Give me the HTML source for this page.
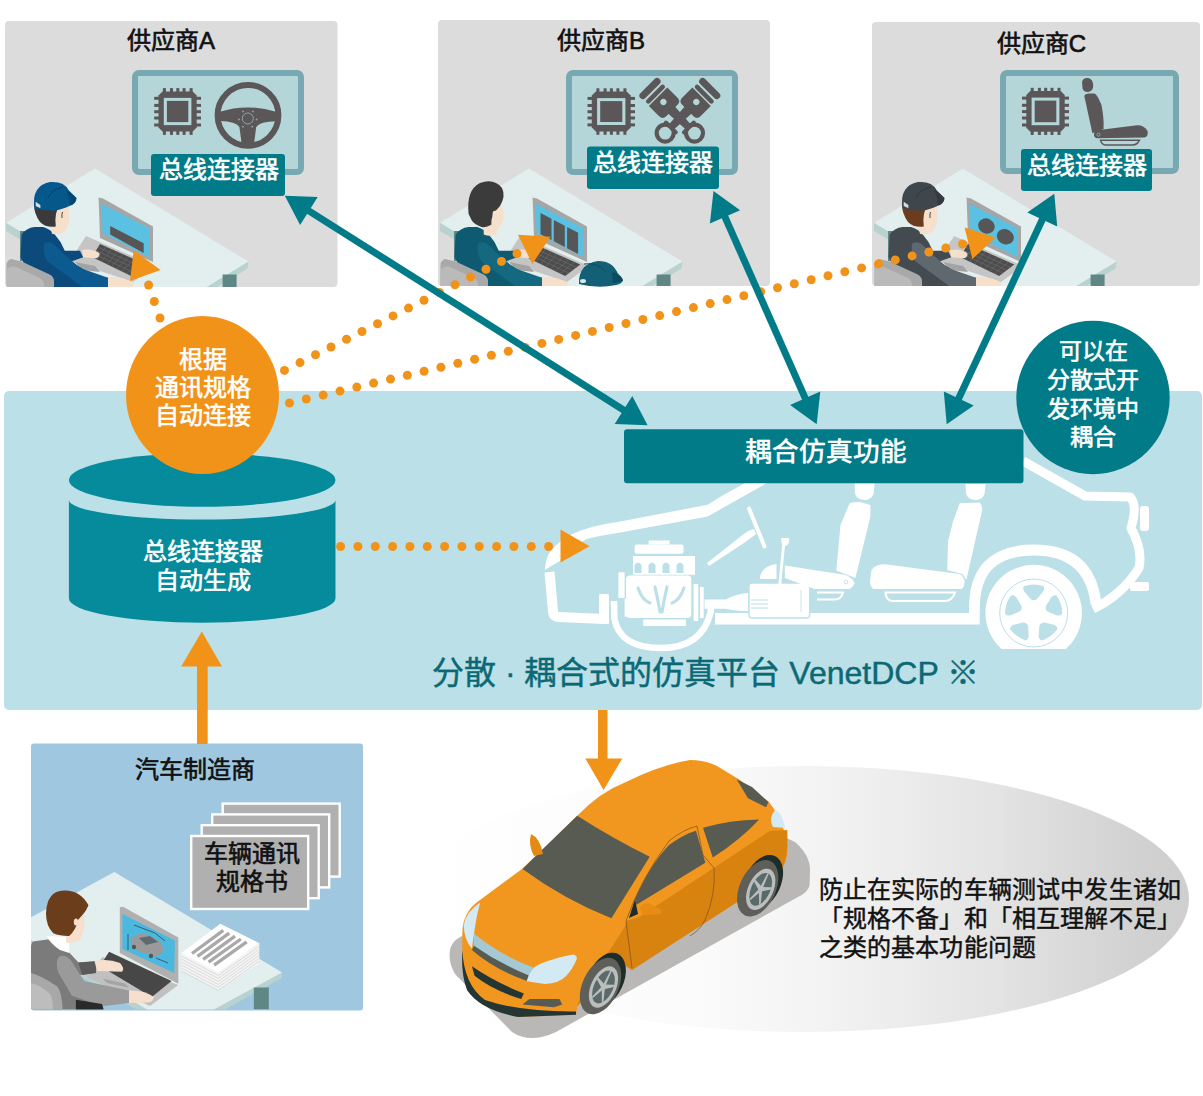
<!DOCTYPE html>
<html lang="zh-CN"><head><meta charset="utf-8"><style>
html,body{margin:0;padding:0;background:#fff;}
body{width:1203px;height:1096px;overflow:hidden;font-family:"Liberation Sans",sans-serif;}
svg{display:block;font-family:"Liberation Sans",sans-serif;}
</style></head><body>
<svg width="1203" height="1096" viewBox="0 0 1203 1096">
<rect x="5" y="21" width="332.5" height="266" rx="4" fill="#dcdcdc"/>
<rect x="438" y="20" width="332" height="266" rx="4" fill="#dcdcdc"/>
<rect x="872" y="22" width="328" height="264" rx="4" fill="#dcdcdc"/>
<defs><clipPath id="clipA"><rect x="5" y="21" width="332.5" height="266" rx="4"/></clipPath></defs><g clip-path="url(#clipA)"><g transform="translate(0,0)"><polygon points="6,222.7 6,231 159.5,322 247.5,268.5 248.5,261.6" fill="#b7d2cf"/><polygon points="95,168.6 6,222.7 159.5,315.7 248.5,261.6" fill="#e2efee"/><rect x="20" y="231" width="5" height="30" fill="#5f8785"/><rect x="222.6" y="274.5" width="14" height="14" fill="#5f8785"/><polygon points="86,236 155,266 133,282 70,261" fill="#c5c5c5"/><polygon points="100,244 146.3,264.5 131.2,276 92,257" fill="#4d4d4d"/><line x1="98.0" y1="247.2" x2="142.5" y2="267.4" stroke="#6e6e6e" stroke-width="0.6"/><line x1="96.0" y1="250.5" x2="138.8" y2="270.2" stroke="#6e6e6e" stroke-width="0.6"/><line x1="94.0" y1="253.8" x2="135.0" y2="273.1" stroke="#6e6e6e" stroke-width="0.6"/><line x1="105.8" y1="246.6" x2="96.9" y2="259.4" stroke="#6e6e6e" stroke-width="0.6"/><line x1="111.6" y1="249.1" x2="101.8" y2="261.8" stroke="#6e6e6e" stroke-width="0.6"/><line x1="117.4" y1="251.7" x2="106.7" y2="264.1" stroke="#6e6e6e" stroke-width="0.6"/><line x1="123.2" y1="254.2" x2="111.6" y2="266.5" stroke="#6e6e6e" stroke-width="0.6"/><line x1="128.9" y1="256.8" x2="116.5" y2="268.9" stroke="#6e6e6e" stroke-width="0.6"/><line x1="134.7" y1="259.4" x2="121.4" y2="271.2" stroke="#6e6e6e" stroke-width="0.6"/><line x1="140.5" y1="261.9" x2="126.3" y2="273.6" stroke="#6e6e6e" stroke-width="0.6"/><polygon points="75,262 95,266 100,272 82,270" fill="#a3a3a3"/><polygon points="98.6,197.6 103,198.5 153,226.5 153,262 100,238" fill="#a6a6a6"/><polygon points="101.8,204 150,228.4 150,257.5 102.5,233" fill="#5bc1e3"/><polygon points="110.2,226 143.7,243.2 143.7,253 110.2,234.6" fill="#565656"/><path d="M21.6,234.6 Q26,228 34.6,227 L43.2,227 Q50,229 54,233.5 L60.5,242 L64.8,250.8 L80,250.8 L83.2,257.3 L71.3,261.6 L95,276.7 L108,277.8 L110.2,290 L38.9,290 L20.5,257.3 Z" fill="#0b4a7b"/><path d="M44.3,243.2 Q50,241 54,244.3 L62.7,253 L80,268 L108,277.8 L109,290 L86.4,290 L62.7,272.4 L47.5,261.6 Q42,252 44.3,243.2 Z" fill="#0d5a91"/><path d="M51.7,206 L68.9,206 Q70.5,222 66,230 Q60,236 52,233.7 L50,226 Z" fill="#f6dfcb"/><path d="M33.9,203.5 L60,206 Q54,212 55.8,226.6 Q46,228 40,222 Q34,214 33.9,203.5 Z" fill="#3a3a3a"/><ellipse cx="62.8" cy="214.7" rx="2.4" ry="4" fill="#f6dfcb"/><path d="M62.5,212 Q61.5,215 62,218" fill="none" stroke="#3a3a3a" stroke-width="0.9"/><path d="M34.5,208.2 Q31,186 50,182.1 Q64,181 68.9,190.4 L76.6,198 Q76,204 70,205.8 Q60,210 55.8,210.6 Q44,211 34.5,208.2 Z" fill="#04588c"/><path d="M65.9,189.8 Q72,193 76.6,198 Q76,204 70,205.5 Q69,196 65.9,189.8 Z" fill="#00000030"/><path d="M48,198 Q52,189 63,187" fill="none" stroke="#00000040" stroke-width="1"/><path d="M35.7,201.7 L40.4,205 L40.4,208.2 L35.7,206 Z" fill="#d6dde3"/><path d="M82,250 Q92,248 99.4,253 Q100,258 95,258.3 L83.2,257.3 Z" fill="#f6dfcb"/><path d="M108,276.7 Q125,277 134,283.2 L131.8,290 L108,290 Z" fill="#f6dfcb"/><path d="M6.5,263.7 Q9,258 13,259.4 L21.6,261.6 L49.7,274.5 Q54,277 54,281 L54,290 L6.5,290 Z" fill="#a9a9a9"/><path d="M6.5,270 Q10,265 16,267 L40,278 Q44,281 44,285 L44,290 L6.5,290 Z" fill="#bababa"/></g></g>
<defs><clipPath id="clipB"><rect x="438" y="20" width="332" height="266" rx="4"/></clipPath></defs><g clip-path="url(#clipB)"><g transform="translate(434,0)"><polygon points="6,222.7 6,231 159.5,322 247.5,268.5 248.5,261.6" fill="#b7d2cf"/><polygon points="95,168.6 6,222.7 159.5,315.7 248.5,261.6" fill="#e2efee"/><rect x="20" y="231" width="5" height="30" fill="#5f8785"/><rect x="222.6" y="274.5" width="14" height="14" fill="#5f8785"/><polygon points="86,236 155,266 133,282 70,261" fill="#c5c5c5"/><polygon points="100,244 146.3,264.5 131.2,276 92,257" fill="#4d4d4d"/><line x1="98.0" y1="247.2" x2="142.5" y2="267.4" stroke="#6e6e6e" stroke-width="0.6"/><line x1="96.0" y1="250.5" x2="138.8" y2="270.2" stroke="#6e6e6e" stroke-width="0.6"/><line x1="94.0" y1="253.8" x2="135.0" y2="273.1" stroke="#6e6e6e" stroke-width="0.6"/><line x1="105.8" y1="246.6" x2="96.9" y2="259.4" stroke="#6e6e6e" stroke-width="0.6"/><line x1="111.6" y1="249.1" x2="101.8" y2="261.8" stroke="#6e6e6e" stroke-width="0.6"/><line x1="117.4" y1="251.7" x2="106.7" y2="264.1" stroke="#6e6e6e" stroke-width="0.6"/><line x1="123.2" y1="254.2" x2="111.6" y2="266.5" stroke="#6e6e6e" stroke-width="0.6"/><line x1="128.9" y1="256.8" x2="116.5" y2="268.9" stroke="#6e6e6e" stroke-width="0.6"/><line x1="134.7" y1="259.4" x2="121.4" y2="271.2" stroke="#6e6e6e" stroke-width="0.6"/><line x1="140.5" y1="261.9" x2="126.3" y2="273.6" stroke="#6e6e6e" stroke-width="0.6"/><polygon points="75,262 95,266 100,272 82,270" fill="#a3a3a3"/><polygon points="98.6,197.6 103,198.5 153,226.5 153,262 100,238" fill="#a6a6a6"/><polygon points="101.8,204 150,228.4 150,257.5 102.5,233" fill="#5bc1e3"/><polygon points="106.5,213 117.5,218.8 117.5,240 106.5,234.2" fill="#565656"/><polygon points="119.8,220 130.8,225.8 130.8,247 119.8,241.2" fill="#565656"/><polygon points="133.1,227 144.1,232.8 144.1,254 133.1,248.2" fill="#565656"/><path d="M21.6,234.6 Q26,228 34.6,227 L43.2,227 Q50,229 54,233.5 L60.5,242 L64.8,250.8 L80,250.8 L83.2,257.3 L71.3,261.6 L95,276.7 L108,277.8 L110.2,290 L38.9,290 L20.5,257.3 Z" fill="#0e5a70"/><path d="M44.3,243.2 Q50,241 54,244.3 L62.7,253 L80,268 L108,277.8 L109,290 L86.4,290 L62.7,272.4 L47.5,261.6 Q42,252 44.3,243.2 Z" fill="#146980"/><path d="M49.7,224.8 L62.7,224.8 L62.7,234.6 Q56,237 49.7,234.6 Z" fill="#f6dfcb"/><ellipse cx="57.3" cy="215.5" rx="12.5" ry="15.5" fill="#f6dfcb"/><path d="M34.6,214 Q32,190 46,183 Q60,178 68,188 Q72,196 66,206 L62.7,209.7 Q59,212 58.4,216.2 Q57,220 57.3,224.8 Q52,228 47.5,227 Q40,224 37.8,220.5 Z" fill="#3b3b3b"/><ellipse cx="60.8" cy="214" rx="2.2" ry="3.2" fill="#f6dfcb"/><path d="M82,250 Q92,248 99.4,253 Q100,258 95,258.3 L83.2,257.3 Z" fill="#f6dfcb"/><path d="M108,276.7 Q125,277 134,283.2 L131.8,290 L108,290 Z" fill="#f6dfcb"/><path d="M6.5,263.7 Q9,258 13,259.4 L21.6,261.6 L49.7,274.5 Q54,277 54,281 L54,290 L6.5,290 Z" fill="#a9a9a9"/><path d="M6.5,270 Q10,265 16,267 L40,278 Q44,281 44,285 L44,290 L6.5,290 Z" fill="#bababa"/></g></g>
<path d="M579,284 Q578,264 598,261 Q613,261 618,274 L623,280 Q622,284 616,285 Q598,289 579,284 Z" fill="#135f75"/>
<path d="M612,272 Q622,274 623,281 L613,283 Z" fill="#0c4c5f"/>
<path d="M584,264 Q598,262 606,272" fill="none" stroke="#0c4c5f" stroke-width="1"/>
<ellipse cx="583" cy="281" rx="3" ry="2" fill="#dfe6ea"/>
<defs><clipPath id="clipC"><rect x="872" y="22" width="328" height="264" rx="4"/></clipPath></defs><g clip-path="url(#clipC)"><g transform="translate(868,0)"><polygon points="6,222.7 6,231 159.5,322 247.5,268.5 248.5,261.6" fill="#b7d2cf"/><polygon points="95,168.6 6,222.7 159.5,315.7 248.5,261.6" fill="#e2efee"/><rect x="20" y="231" width="5" height="30" fill="#5f8785"/><rect x="222.6" y="274.5" width="14" height="14" fill="#5f8785"/><polygon points="86,236 155,266 133,282 70,261" fill="#c5c5c5"/><polygon points="100,244 146.3,264.5 131.2,276 92,257" fill="#4d4d4d"/><line x1="98.0" y1="247.2" x2="142.5" y2="267.4" stroke="#6e6e6e" stroke-width="0.6"/><line x1="96.0" y1="250.5" x2="138.8" y2="270.2" stroke="#6e6e6e" stroke-width="0.6"/><line x1="94.0" y1="253.8" x2="135.0" y2="273.1" stroke="#6e6e6e" stroke-width="0.6"/><line x1="105.8" y1="246.6" x2="96.9" y2="259.4" stroke="#6e6e6e" stroke-width="0.6"/><line x1="111.6" y1="249.1" x2="101.8" y2="261.8" stroke="#6e6e6e" stroke-width="0.6"/><line x1="117.4" y1="251.7" x2="106.7" y2="264.1" stroke="#6e6e6e" stroke-width="0.6"/><line x1="123.2" y1="254.2" x2="111.6" y2="266.5" stroke="#6e6e6e" stroke-width="0.6"/><line x1="128.9" y1="256.8" x2="116.5" y2="268.9" stroke="#6e6e6e" stroke-width="0.6"/><line x1="134.7" y1="259.4" x2="121.4" y2="271.2" stroke="#6e6e6e" stroke-width="0.6"/><line x1="140.5" y1="261.9" x2="126.3" y2="273.6" stroke="#6e6e6e" stroke-width="0.6"/><polygon points="75,262 95,266 100,272 82,270" fill="#a3a3a3"/><polygon points="98.6,197.6 103,198.5 153,226.5 153,262 100,238" fill="#a6a6a6"/><polygon points="101.8,204 150,228.4 150,257.5 102.5,233" fill="#5bc1e3"/><ellipse cx="118.4" cy="226" rx="8.5" ry="7.5" transform="rotate(25 118.4 226)" fill="#565656"/><ellipse cx="137.3" cy="236.7" rx="8.7" ry="7.5" transform="rotate(25 137.3 236.7)" fill="#565656"/><path d="M21.6,234.6 Q26,228 34.6,227 L43.2,227 Q50,229 54,233.5 L60.5,242 L64.8,250.8 L80,250.8 L83.2,257.3 L71.3,261.6 L95,276.7 L108,277.8 L110.2,290 L38.9,290 L20.5,257.3 Z" fill="#434b51"/><path d="M44.3,243.2 Q50,241 54,244.3 L62.7,253 L80,268 L108,277.8 L109,290 L86.4,290 L62.7,272.4 L47.5,261.6 Q42,252 44.3,243.2 Z" fill="#5f686e"/><path d="M51.7,206 L68.9,206 Q70.5,222 66,230 Q60,236 52,233.7 L50,226 Z" fill="#f6dfcb"/><path d="M33.9,203.5 L60,206 Q54,212 55.8,226.6 Q46,228 40,222 Q34,214 33.9,203.5 Z" fill="#6b3d1e"/><ellipse cx="62.8" cy="214.7" rx="2.4" ry="4" fill="#f6dfcb"/><path d="M62.5,212 Q61.5,215 62,218" fill="none" stroke="#3a3a3a" stroke-width="0.9"/><path d="M34.5,208.2 Q31,186 50,182.1 Q64,181 68.9,190.4 L76.6,198 Q76,204 70,205.8 Q60,210 55.8,210.6 Q44,211 34.5,208.2 Z" fill="#3f474d"/><path d="M65.9,189.8 Q72,193 76.6,198 Q76,204 70,205.5 Q69,196 65.9,189.8 Z" fill="#00000030"/><path d="M48,198 Q52,189 63,187" fill="none" stroke="#00000040" stroke-width="1"/><path d="M35.7,201.7 L40.4,205 L40.4,208.2 L35.7,206 Z" fill="#d6dde3"/><path d="M82,250 Q92,248 99.4,253 Q100,258 95,258.3 L83.2,257.3 Z" fill="#f6dfcb"/><path d="M108,276.7 Q125,277 134,283.2 L131.8,290 L108,290 Z" fill="#f6dfcb"/><path d="M6.5,263.7 Q9,258 13,259.4 L21.6,261.6 L49.7,274.5 Q54,277 54,281 L54,290 L6.5,290 Z" fill="#a9a9a9"/><path d="M6.5,270 Q10,265 16,267 L40,278 Q44,281 44,285 L44,290 L6.5,290 Z" fill="#bababa"/></g></g>
<text x="171" y="49" font-size="24" fill="#111" text-anchor="middle" font-weight="400" stroke="#111" stroke-width="0.65" >供应商A</text>
<text x="601" y="49" font-size="24" fill="#111" text-anchor="middle" font-weight="400" stroke="#111" stroke-width="0.65" >供应商B</text>
<text x="1041.5" y="52.3" font-size="24" fill="#111" text-anchor="middle" font-weight="400" stroke="#111" stroke-width="0.65" >供应商C</text>
<rect x="135" y="73" width="166" height="99" rx="4" fill="#b5d6d8" stroke="#78a9b2" stroke-width="6"/>
<rect x="569" y="73" width="166" height="99" rx="4" fill="#b5d6d8" stroke="#78a9b2" stroke-width="6"/>
<rect x="1003" y="73" width="173" height="98" rx="4" fill="#b5d6d8" stroke="#78a9b2" stroke-width="6"/>
<rect x="162.9" y="88.1" width="3" height="46.80000000000001" fill="#5b5758"/><rect x="154.2" y="96.8" width="46.80000000000001" height="3" fill="#5b5758"/><rect x="170.0" y="88.1" width="3" height="46.80000000000001" fill="#5b5758"/><rect x="154.2" y="103.9" width="46.80000000000001" height="3" fill="#5b5758"/><rect x="176.3" y="88.1" width="3" height="46.80000000000001" fill="#5b5758"/><rect x="154.2" y="110.2" width="46.80000000000001" height="3" fill="#5b5758"/><rect x="182.6" y="88.1" width="3" height="46.80000000000001" fill="#5b5758"/><rect x="154.2" y="116.5" width="46.80000000000001" height="3" fill="#5b5758"/><rect x="189.6" y="88.1" width="3" height="46.80000000000001" fill="#5b5758"/><rect x="154.2" y="123.5" width="46.80000000000001" height="3" fill="#5b5758"/><polygon points="162.5,91.39999999999999 192.7,91.39999999999999 196.7,95.39999999999999 196.7,127.6 192.7,131.6 162.5,131.6 158.5,127.6 158.5,95.39999999999999" fill="#5b5758"/><rect x="163.8" y="97.9" width="27.6" height="27.2" fill="#b5d6d8"/><rect x="166.9" y="100.9" width="21.4" height="21.2" fill="#5b5758"/>
<rect x="596.4" y="88.3" width="3" height="46.500000000000014" fill="#5b5758"/><rect x="587.5" y="96.9" width="47.5" height="3" fill="#5b5758"/><rect x="603.6" y="88.3" width="3" height="46.500000000000014" fill="#5b5758"/><rect x="587.5" y="104.0" width="47.5" height="3" fill="#5b5758"/><rect x="609.9" y="88.3" width="3" height="46.500000000000014" fill="#5b5758"/><rect x="587.5" y="110.2" width="47.5" height="3" fill="#5b5758"/><rect x="616.4" y="88.3" width="3" height="46.500000000000014" fill="#5b5758"/><rect x="587.5" y="116.5" width="47.5" height="3" fill="#5b5758"/><rect x="623.4" y="88.3" width="3" height="46.500000000000014" fill="#5b5758"/><rect x="587.5" y="123.4" width="47.5" height="3" fill="#5b5758"/><polygon points="595.8,91.6 626.7,91.6 630.7,95.6 630.7,127.5 626.7,131.5 595.8,131.5 591.8,127.5 591.8,95.6" fill="#5b5758"/><rect x="597.1" y="98.1" width="28.3" height="26.9" fill="#b5d6d8"/><rect x="600.2" y="101.1" width="22.1" height="20.9" fill="#5b5758"/>
<rect x="1030.7" y="87.8" width="3" height="47.2" fill="#5b5758"/><rect x="1022" y="96.6" width="47" height="3" fill="#5b5758"/><rect x="1037.9" y="87.8" width="3" height="47.2" fill="#5b5758"/><rect x="1022" y="103.8" width="47" height="3" fill="#5b5758"/><rect x="1044.2" y="87.8" width="3" height="47.2" fill="#5b5758"/><rect x="1022" y="110.1" width="47" height="3" fill="#5b5758"/><rect x="1050.5" y="87.8" width="3" height="47.2" fill="#5b5758"/><rect x="1022" y="116.5" width="47" height="3" fill="#5b5758"/><rect x="1057.5" y="87.8" width="3" height="47.2" fill="#5b5758"/><rect x="1022" y="123.5" width="47" height="3" fill="#5b5758"/><polygon points="1030.3,91.1 1060.7,91.1 1064.7,95.1 1064.7,127.69999999999999 1060.7,131.7 1030.3,131.7 1026.3,127.69999999999999 1026.3,95.1" fill="#5b5758"/><rect x="1031.6" y="97.6" width="27.8" height="27.6" fill="#b5d6d8"/><rect x="1034.7" y="100.6" width="21.6" height="21.6" fill="#5b5758"/>
<circle cx="248" cy="115.3" r="30.4" fill="none" stroke="#5b5758" stroke-width="6"/><path d="M220,111.8 Q234,107.2 248,107.4 Q262,107.2 276,111.8 L276,121.3 Q260,121.5 256.2,127 L254,144 L241.7,144 L239.4,127 Q236,121.5 220,121 Z" fill="#5b5758"/><circle cx="247.8" cy="118.5" r="5.5" fill="none" stroke="#a9c6c8" stroke-width="0.7"/><circle cx="243" cy="111.4" r="0.9" fill="#8fa9ab"/><circle cx="252.9" cy="111.4" r="0.9" fill="#8fa9ab"/><circle cx="239" cy="119.4" r="0.9" fill="#8fa9ab"/><circle cx="256.6" cy="119.4" r="0.9" fill="#8fa9ab"/><circle cx="243" cy="126.7" r="0.9" fill="#8fa9ab"/><circle cx="252.2" cy="126.7" r="0.9" fill="#8fa9ab"/>
<g transform="translate(663.4,102) rotate(-45)"><rect x="-13.5" y="-22.5" width="27" height="7" rx="3.5" fill="#5b5758"/><rect x="-12.5" y="-13.5" width="25" height="4.6" rx="2.3" fill="#5b5758"/><path d="M-13,-7.5 L13,-7.5 L13,7 Q13,12 8,12 L-8,12 Q-13,12 -13,7 Z" fill="#5b5758"/><circle cx="0" cy="0" r="3.1" fill="#b5d6d8"/><polygon points="-5,10 5,10 3.5,36 -3.5,36" fill="#5b5758"/><circle cx="0" cy="44" r="8.5" fill="none" stroke="#5b5758" stroke-width="4.2"/><rect x="-9" y="34" width="18" height="4" rx="2" fill="#5b5758"/></g><g transform="translate(696.3,102) rotate(45)"><rect x="-13.5" y="-22.5" width="27" height="7" rx="3.5" fill="#5b5758"/><rect x="-12.5" y="-13.5" width="25" height="4.6" rx="2.3" fill="#5b5758"/><path d="M-13,-7.5 L13,-7.5 L13,7 Q13,12 8,12 L-8,12 Q-13,12 -13,7 Z" fill="#5b5758"/><circle cx="0" cy="0" r="3.1" fill="#b5d6d8"/><polygon points="-5,10 5,10 3.5,36 -3.5,36" fill="#5b5758"/><circle cx="0" cy="44" r="8.5" fill="none" stroke="#5b5758" stroke-width="4.2"/><rect x="-9" y="34" width="18" height="4" rx="2" fill="#5b5758"/></g>
<path d="M1082,82 Q1083,77.5 1088,78 Q1093,79 1093.2,85 Q1093.5,91 1088,92 Q1083,92 1082.5,88 Z" fill="#5b5758"/><path d="M1084.3,96 Q1085,93.4 1089,93.4 L1094.5,93.4 Q1097,94 1101.5,105 Q1104,118 1103.6,129 L1092.4,133.2 Z" fill="#5b5758"/><path d="M1094,134 Q1094.5,130.5 1099,130 L1135,125.4 Q1144,124.5 1147.6,131 Q1148.5,137 1144,137.6 L1097,138.2 Q1093.5,137.5 1094,134 Z" fill="#5b5758"/><circle cx="1098.5" cy="134.6" r="1.6" fill="none" stroke="#a9c6c8" stroke-width="0.6"/><path d="M1100.5,140.2 L1139.5,140.2 Q1137,145 1133,145 L1105,145 Q1101.5,144.5 1100.5,140.2 Z" fill="none" stroke="#5b5758" stroke-width="1.5"/>
<rect x="151" y="154" width="134" height="42" rx="3" fill="#027b88"/>
<rect x="587" y="146.5" width="132" height="42.5" rx="3" fill="#027b88"/>
<rect x="1021" y="149" width="131" height="42" rx="3" fill="#027b88"/>
<text x="218.5" y="178" font-size="24" fill="#fff" text-anchor="middle" font-weight="400" stroke="#fff" stroke-width="0.6" >总线连接器</text>
<text x="653" y="171" font-size="24" fill="#fff" text-anchor="middle" font-weight="400" stroke="#fff" stroke-width="0.6" >总线连接器</text>
<text x="1086.5" y="173.5" font-size="24" fill="#fff" text-anchor="middle" font-weight="400" stroke="#fff" stroke-width="0.6" >总线连接器</text>
<rect x="4" y="391" width="1198" height="319" rx="5" fill="#bce0e7"/>
<path d="M544.7,570 Q546,558 549.3,553 Q560,538 578.8,531.2 Q595,525 617.6,521.9 L707.6,504.8 Q714,501 720,497 L768,470 L790,470 L720,509.5 Q714,513 707.6,516.5 L617.6,533 Q598,536 586.6,539 Q570,548 560.2,560.7 Z" fill="#fff"/>
<path d="M549.5,572 L553,611 Q553,617 559,617 L604,619" fill="none" stroke="#fff" stroke-width="10" stroke-linejoin="round"/>
<rect x="599" y="594" width="10" height="30" rx="1.5" fill="#fff"/>
<path d="M614,601 L614.5,619 Q620,648 661,648 Q702,648 710.7,612 L711,600" fill="none" stroke="#fff" stroke-width="6.5"/>
<rect x="626" y="575.4" width="65.3" height="42.7" rx="4" fill="#fff"/>
<path d="M633,556 L695,556 L695,574.7 L633,574.7 Z" fill="#fff"/>
<rect x="634.7" y="544.4" width="48.8" height="9.3" rx="2" fill="#fff"/>
<rect x="648.6" y="540.5" width="21" height="4" rx="1" fill="#fff"/>
<rect x="618.4" y="572.3" width="6.2" height="25.7" fill="#fff"/>
<rect x="624.6" y="598.7" width="5.4" height="17.9" fill="#fff"/>
<rect x="693.6" y="584" width="4.7" height="37" fill="#fff"/>
<rect x="700" y="587" width="3.7" height="31" fill="#fff"/>
<rect x="643.2" y="619.5" width="42.7" height="6.5" fill="#fff"/>
<path d="M634.5,573 L634.5,565 Q638,560 641.5,565 L641.5,573 Z" fill="#bce0e7"/>
<path d="M648.5,573 L648.5,565 Q652,560 655.5,565 L655.5,573 Z" fill="#bce0e7"/>
<path d="M662.5,573 L662.5,565 Q666,560 669.5,565 L669.5,573 Z" fill="#bce0e7"/>
<path d="M676.5,573 L676.5,565 Q680,560 683.5,565 L683.5,573 Z" fill="#bce0e7"/>
<path d="M638,588 Q642,600 650,603 M684,588 Q680,600 672,603 M655,587 Q658,600 660,612 M667,587 Q664,600 662,612" fill="none" stroke="#bce0e7" stroke-width="3.2" stroke-linecap="round"/>
<path d="M704.5,599.5 L726,599.5 Q735,594 748.2,593 L748.2,611.3 Q735,611 726,608.8 L704.5,608.8 Z" fill="#fff"/>
<path d="M781,538 L789,538 Q790,543 786,546 L783,546 Q781,543 781,538 Z" fill="#fff"/>
<path d="M707,563 L740,537 Q748,530 754,529 L756,534 Q751,538 744,543 L709,566 Z" fill="#fff"/>
<line x1="749" y1="508.5" x2="764.5" y2="546.5" stroke="#fff" stroke-width="4" stroke-linecap="round"/>
<path d="M715,613 L969.7,613 L979.7,613 L979.7,624.6 L715,624.6 Z" fill="#fff"/>
<rect x="749" y="583" width="60.7" height="35" rx="3" fill="#fff" stroke="#bce0e7" stroke-width="1.3"/>
<line x1="751" y1="600" x2="768" y2="600" stroke="#bce0e7" stroke-width="1"/><line x1="751" y1="604" x2="768" y2="604" stroke="#bce0e7" stroke-width="1"/><line x1="751" y1="608" x2="768" y2="608" stroke="#bce0e7" stroke-width="1"/>
<line x1="801" y1="590" x2="801" y2="612" stroke="#bce0e7" stroke-width="0.8"/>
<line x1="779.8" y1="584" x2="784" y2="541" stroke="#fff" stroke-width="2.8"/>
<path d="M854.6,483.3 L874.6,483.3 L873.6,494 Q871,500 864,500 Q856,499 855,493 Z" fill="#fff"/>
<path d="M849.6,503.3 Q852,502 860,502 L870.4,505 L870.4,516.6 L855.4,578 L836.3,570.6 L840.5,524.9 Z" fill="#fff"/>
<path d="M784.8,565.6 L844.6,574.8 Q852,577 854.6,583 Q852,589 848,589 L814.7,589 L784.8,578 Z" fill="#fff"/>
<path d="M759.8,579 Q761,566 776.5,564 L776.5,579 Z" fill="#fff"/>
<path d="M817,592.5 L843,592.5 Q841,599.5 835,599.5 L817,599.5" fill="none" stroke="#fff" stroke-width="2.2"/>
<circle cx="846" cy="582" r="1.8" fill="none" stroke="#bce0e7" stroke-width="0.8"/>
<path d="M965.6,484 L985.5,484 L984.5,494 Q982,500 975,500 Q967,499 966,493 Z" fill="#fff"/>
<path d="M959.7,503.2 L979.7,502.4 Q982.5,505 982.2,510 L966.4,579.7 L962.2,574 L947.3,570 L948,541.5 L953,521.5 Z" fill="#fff"/>
<path d="M871.6,569.7 Q876,564 886.6,564.4 L959.7,574 Q964,577 964.7,581.4 Q964,588 961.4,588.9 L873.3,588.9 Q870,586 870,581.4 Z" fill="#fff"/>
<path d="M885.5,592.5 L955,592.5 Q952,601 945,601 L892,601 Q886,600 885.5,592.5 Z" fill="none" stroke="#fff" stroke-width="2.2"/>
<path d="M974.5,613 Q972,550 1033.7,550 Q1090,550 1096,604" fill="none" stroke="#fff" stroke-width="10.8"/>
<defs><clipPath id="wclip"><rect x="900" y="400" width="300" height="249"/></clipPath></defs>
<g clip-path="url(#wclip)"><circle cx="1033.7" cy="613" r="48.2" fill="#fff"/></g>
<circle cx="1033.7" cy="613" r="34" fill="none" stroke="#bce0e7" stroke-width="1"/>
<g transform="translate(1033.7 613)"><path d="M-9.5,-27 Q0,-30 9.5,-27 Q11.5,-25 9.5,-21.5 L3.2,-14 Q0,-11.5 -3.2,-14 L-9.5,-21.5 Q-11.5,-25 -9.5,-27 Z" transform="rotate(0)" fill="#bce0e7"/><path d="M-9.5,-27 Q0,-30 9.5,-27 Q11.5,-25 9.5,-21.5 L3.2,-14 Q0,-11.5 -3.2,-14 L-9.5,-21.5 Q-11.5,-25 -9.5,-27 Z" transform="rotate(72)" fill="#bce0e7"/><path d="M-9.5,-27 Q0,-30 9.5,-27 Q11.5,-25 9.5,-21.5 L3.2,-14 Q0,-11.5 -3.2,-14 L-9.5,-21.5 Q-11.5,-25 -9.5,-27 Z" transform="rotate(144)" fill="#bce0e7"/><path d="M-9.5,-27 Q0,-30 9.5,-27 Q11.5,-25 9.5,-21.5 L3.2,-14 Q0,-11.5 -3.2,-14 L-9.5,-21.5 Q-11.5,-25 -9.5,-27 Z" transform="rotate(216)" fill="#bce0e7"/><path d="M-9.5,-27 Q0,-30 9.5,-27 Q11.5,-25 9.5,-21.5 L3.2,-14 Q0,-11.5 -3.2,-14 L-9.5,-21.5 Q-11.5,-25 -9.5,-27 Z" transform="rotate(288)" fill="#bce0e7"/></g>
<path d="M1023,461 L1085,496 L1130,497 Q1138,505 1131,528 Q1143,550 1139,568 Q1122,595 1093,609" fill="none" stroke="#fff" stroke-width="9" stroke-linejoin="round"/>
<rect x="1140" y="506" width="9" height="25" rx="3" fill="#fff"/>
<rect x="1130" y="582" width="19" height="9" rx="2" fill="#fff"/>
<rect x="624" y="429.3" width="399.5" height="54" rx="3" fill="#027b88"/>
<text x="826" y="461" font-size="26.6" fill="#fff" text-anchor="middle" font-weight="400" stroke="#fff" stroke-width="0.6" >耦合仿真功能</text>
<path d="M68.9,500 A133.3,19.5 0 0 0 335.5,500 L335.5,598.3 A133.3,24.4 0 0 1 68.9,598.3 Z" fill="#058b9b"/>
<ellipse cx="202.2" cy="480" rx="133.3" ry="26.7" fill="#058b9b"/>
<text x="202.5" y="560" font-size="24" fill="#fff" text-anchor="middle" font-weight="400" stroke="#fff" stroke-width="0.6" >总线连接器</text>
<text x="202.5" y="589" font-size="24" fill="#fff" text-anchor="middle" font-weight="400" stroke="#fff" stroke-width="0.6" >自动生成</text>
<ellipse cx="202.5" cy="395.1" rx="76.5" ry="79" fill="#f19319"/>
<text x="203" y="368" font-size="24" fill="#fff" text-anchor="middle" font-weight="400" stroke="#fff" stroke-width="0.6" >根据</text>
<text x="203" y="396" font-size="24" fill="#fff" text-anchor="middle" font-weight="400" stroke="#fff" stroke-width="0.6" >通讯规格</text>
<text x="203" y="424" font-size="24" fill="#fff" text-anchor="middle" font-weight="400" stroke="#fff" stroke-width="0.6" >自动连接</text>
<circle cx="1093" cy="397.5" r="76.7" fill="#027b88"/>
<text x="1093" y="359.0" font-size="23" fill="#fff" text-anchor="middle" font-weight="400" stroke="#fff" stroke-width="0.6" >可以在</text>
<text x="1093" y="387.8" font-size="23" fill="#fff" text-anchor="middle" font-weight="400" stroke="#fff" stroke-width="0.6" >分散式开</text>
<text x="1093" y="416.6" font-size="23" fill="#fff" text-anchor="middle" font-weight="400" stroke="#fff" stroke-width="0.6" >发环境中</text>
<text x="1093" y="445.4" font-size="23" fill="#fff" text-anchor="middle" font-weight="400" stroke="#fff" stroke-width="0.6" >耦合</text>
<text x="432" y="684" font-size="32" fill="#0b6975" text-anchor="start" font-weight="400" stroke="#0b6975" stroke-width="0.45" >分散 · 耦合式的仿真平台 VenetDCP ※</text>
<g fill="#f19319"><circle cx="160.0" cy="318.0" r="4.5"/><circle cx="154.3" cy="301.5" r="4.5"/><circle cx="148.6" cy="285.0" r="4.5"/></g>
<polygon points="133.7,250.4 160.6,270 130,281" fill="#f19319"/>
<g fill="#f19319"><circle cx="284.5" cy="370.4" r="4.5"/><circle cx="300.0" cy="362.6" r="4.5"/><circle cx="315.5" cy="354.8" r="4.5"/><circle cx="331.0" cy="347.0" r="4.5"/><circle cx="346.5" cy="339.3" r="4.5"/><circle cx="362.0" cy="331.5" r="4.5"/><circle cx="377.5" cy="323.7" r="4.5"/><circle cx="393.0" cy="315.9" r="4.5"/><circle cx="408.5" cy="308.1" r="4.5"/><circle cx="424.0" cy="300.3" r="4.5"/><circle cx="439.5" cy="292.5" r="4.5"/><circle cx="455.0" cy="284.7" r="4.5"/><circle cx="470.5" cy="277.0" r="4.5"/><circle cx="486.0" cy="269.2" r="4.5"/><circle cx="501.5" cy="261.4" r="4.5"/><circle cx="517.0" cy="253.6" r="4.5"/></g>
<polygon points="518,234.8 550.5,236.7 532.4,263.9" fill="#f19319"/>
<g fill="#f19319"><circle cx="289.5" cy="403.0" r="4.5"/><circle cx="306.3" cy="399.0" r="4.5"/><circle cx="323.2" cy="395.1" r="4.5"/><circle cx="340.0" cy="391.1" r="4.5"/><circle cx="356.8" cy="387.1" r="4.5"/><circle cx="373.6" cy="383.1" r="4.5"/><circle cx="390.5" cy="379.1" r="4.5"/><circle cx="407.3" cy="375.2" r="4.5"/><circle cx="424.1" cy="371.2" r="4.5"/><circle cx="440.9" cy="367.2" r="4.5"/><circle cx="457.8" cy="363.2" r="4.5"/><circle cx="474.6" cy="359.3" r="4.5"/><circle cx="491.4" cy="355.3" r="4.5"/><circle cx="508.3" cy="351.3" r="4.5"/><circle cx="525.1" cy="347.4" r="4.5"/><circle cx="541.9" cy="343.4" r="4.5"/><circle cx="558.7" cy="339.4" r="4.5"/><circle cx="575.6" cy="335.4" r="4.5"/><circle cx="592.4" cy="331.4" r="4.5"/><circle cx="609.2" cy="327.5" r="4.5"/><circle cx="626.0" cy="323.5" r="4.5"/><circle cx="642.9" cy="319.5" r="4.5"/><circle cx="659.7" cy="315.6" r="4.5"/><circle cx="676.5" cy="311.6" r="4.5"/><circle cx="693.4" cy="307.6" r="4.5"/><circle cx="710.2" cy="303.6" r="4.5"/><circle cx="727.0" cy="299.6" r="4.5"/><circle cx="743.8" cy="295.7" r="4.5"/><circle cx="760.7" cy="291.7" r="4.5"/><circle cx="777.5" cy="287.7" r="4.5"/><circle cx="794.3" cy="283.8" r="4.5"/><circle cx="811.2" cy="279.8" r="4.5"/><circle cx="828.0" cy="275.8" r="4.5"/><circle cx="844.8" cy="271.8" r="4.5"/><circle cx="861.6" cy="267.9" r="4.5"/><circle cx="878.5" cy="263.9" r="4.5"/><circle cx="895.3" cy="259.9" r="4.5"/><circle cx="912.1" cy="255.9" r="4.5"/><circle cx="928.9" cy="252.0" r="4.5"/><circle cx="945.8" cy="248.0" r="4.5"/><circle cx="962.6" cy="244.0" r="4.5"/></g>
<polygon points="964.6,227.6 995.7,237.4 972.4,259.1" fill="#f19319"/>
<g fill="#f19319"><circle cx="340.6" cy="546.5" r="4.5"/><circle cx="357.9" cy="546.5" r="4.5"/><circle cx="375.3" cy="546.5" r="4.5"/><circle cx="392.6" cy="546.5" r="4.5"/><circle cx="409.9" cy="546.5" r="4.5"/><circle cx="427.3" cy="546.5" r="4.5"/><circle cx="444.6" cy="546.5" r="4.5"/><circle cx="461.9" cy="546.5" r="4.5"/><circle cx="479.3" cy="546.5" r="4.5"/><circle cx="496.6" cy="546.5" r="4.5"/><circle cx="513.9" cy="546.5" r="4.5"/><circle cx="531.3" cy="546.5" r="4.5"/><circle cx="548.6" cy="546.5" r="4.5"/></g>
<polygon points="560.5,529.6 589.6,546.2 560.5,562.5" fill="#f19319"/>
<line x1="304.1" y1="207.9" x2="628.3" y2="413.0" stroke="#027b88" stroke-width="7"/><polygon points="284.8,195.7 300.1,224.9 317.7,197.0" fill="#027b88"/><polygon points="647.6,425.2 632.3,396.0 614.7,423.9" fill="#027b88"/>
<line x1="722.7" y1="211.8" x2="807.5" y2="403.4" stroke="#027b88" stroke-width="7"/><polygon points="713.5,190.9 709.9,223.6 740.1,210.3" fill="#027b88"/><polygon points="816.7,424.3 820.3,391.6 790.1,404.9" fill="#027b88"/>
<line x1="1044.7" y1="214.4" x2="956.3" y2="403.6" stroke="#027b88" stroke-width="7"/><polygon points="1054.3,193.7 1027.3,212.5 1057.2,226.5" fill="#027b88"/><polygon points="946.7,424.3 973.7,405.5 943.8,391.5" fill="#027b88"/>
<rect x="31" y="743.5" width="332" height="267" rx="3" fill="#9fc8e0"/>
<text x="195" y="777.5" font-size="24" fill="#111" text-anchor="middle" font-weight="400" stroke="#111" stroke-width="0.65" >汽车制造商</text>
<rect x="222.7" y="803.6" width="117" height="73" fill="#b0b0b0" stroke="#fff" stroke-width="2.4"/>
<rect x="212.2" y="814.4" width="117" height="73" fill="#b0b0b0" stroke="#fff" stroke-width="2.4"/>
<rect x="201.7" y="825.2" width="117" height="73" fill="#b0b0b0" stroke="#fff" stroke-width="2.4"/>
<rect x="191.2" y="836.0" width="117" height="73" fill="#b0b0b0" stroke="#fff" stroke-width="2.4"/>
<text x="252" y="862" font-size="24" fill="#111" text-anchor="middle" font-weight="400" stroke="#111" stroke-width="0.65" >车辆通讯</text>
<text x="252" y="890" font-size="24" fill="#111" text-anchor="middle" font-weight="400" stroke="#111" stroke-width="0.65" >规格书</text>
<defs><clipPath id="clipM"><rect x="31" y="743.5" width="332" height="266" rx="3"/></clipPath></defs><g clip-path="url(#clipM)">
<polygon points="11.2,928.1 11.2,935 178.8,1035 282,978 282,972.4" fill="#b7d2cf"/>
<polygon points="114.4,871.9 11.2,928.1 178.8,1028.6 282,972.4" fill="#e2efee"/>
<rect x="253.8" y="987.5" width="15" height="22" fill="#5f8785"/>
<polygon points="181.4,953 181.4,970.2 218.2,989.7 259.3,963.7 259.3,943.2 218.2,972.4" fill="#f4f4f4"/>
<polyline points="181.4,956 218.2,975.4 259.3,946.2" fill="none" stroke="#d0d0d0" stroke-width="0.7"/>
<polyline points="181.4,959 218.2,978.4 259.3,949.2" fill="none" stroke="#d0d0d0" stroke-width="0.7"/>
<polyline points="181.4,962 218.2,981.4 259.3,952.2" fill="none" stroke="#d0d0d0" stroke-width="0.7"/>
<polyline points="181.4,965 218.2,984.4 259.3,955.2" fill="none" stroke="#d0d0d0" stroke-width="0.7"/>
<polyline points="181.4,968 218.2,987.4 259.3,958.2" fill="none" stroke="#d0d0d0" stroke-width="0.7"/>
<polyline points="181.4,971 218.2,990.4 259.3,961.2" fill="none" stroke="#d0d0d0" stroke-width="0.7"/>
<polygon points="181.4,953 220.3,923.8 259.3,943.2 218.2,972.4" fill="#ffffff"/>
<line x1="192.0" y1="953.5" x2="223.3" y2="930.3" stroke="#a9a9a9" stroke-width="3.3"/>
<line x1="197.5" y1="956.4" x2="229.2" y2="933.2" stroke="#a9a9a9" stroke-width="3.3"/>
<line x1="203.1" y1="959.3" x2="235.0" y2="936.1" stroke="#a9a9a9" stroke-width="3.3"/>
<line x1="208.6" y1="962.2" x2="240.9" y2="939.0" stroke="#a9a9a9" stroke-width="3.3"/>
<line x1="214.1" y1="965.1" x2="246.7" y2="941.9" stroke="#a9a9a9" stroke-width="3.3"/>
<polygon points="102.5,957.1 178.3,985 150,1006 86.5,977.1" fill="#c0c0c0"/>
<polygon points="109.1,951.8 171.6,981 151.7,997 100,966" fill="#474747"/>
<polygon points="102.5,978.4 125,983.5 129,987.7 107,983" fill="#a5a5a5"/>
<polygon points="119.8,907.3 123,906.8 178.3,937.5 178.3,983.7 119.8,953" fill="#b0b0b0"/>
<polygon points="122.4,913.9 174.9,940.5 174.3,973 122.4,949.1" fill="#4bb8e0"/>
<path d="M131,940 Q136,932 146,934 L158,940 Q164,945 163,952 L158,956 Q145,955 132,948 Z" fill="#9a9a9a"/>
<path d="M139,938 L150,936 L158,942 L146,945 Z" fill="#5f6a70"/>
<circle cx="134" cy="947" r="2.2" fill="#555"/><circle cx="151" cy="956" r="2.2" fill="#555"/>
<path d="M134,925 L155,933 L165,941 M128,934 L128,950 M156,958 L168,963" fill="none" stroke="#333" stroke-width="0.7"/>
<path d="M30.7,950 Q31,941 34.6,941.2 L54.6,938.5 L69.2,952.5 L78.5,962.4 L95.8,962.4 L95.8,973 L80,975 L102.5,1009.7 L30.7,1009.7 Z" fill="#7b7b7b"/>
<path d="M78.5,962.4 L95.8,961 Q97,968 95.8,973 L82,975 Z" fill="#5a5a5a"/>
<path d="M58.6,957.1 Q66,953 72,962 L83.9,981 L129.1,990.4 L129,1003 L102.5,1006.3 L71.9,995.7 L58.6,973 Q55,964 58.6,957.1 Z" fill="#9a9a9a"/>
<path d="M75.9,999.7 L102,1004 L103.8,1009.7 L75.9,1009.7 Z" fill="#2a2a2a"/>
<path d="M46.6,935.9 L69.2,937 L69.2,953.1 L60,950 Q50,943 46.6,935.9 Z" fill="#ffffff"/>
<path d="M66.6,913.2 L83.9,913.2 Q86,930 80,940 Q74,944 66,942.5 Z" fill="#f6dfcc"/>
<path d="M46,913.2 Q47,891 63.9,890.6 Q80,890 88.5,905.3 Q86,911 83.9,913.2 L78,920 Q76,930 69.2,935.9 Q60,936 53.3,933.2 Q46,926 46,913.2 Z" fill="#6b3d1a"/>
<ellipse cx="76" cy="922" rx="2.2" ry="3.6" fill="#f6dfcc"/>
<path d="M94.5,961 Q108,958 120,963 Q125,968 122,971.8 L97,971 Z" fill="#f6dfcc"/>
<path d="M129,990.4 Q145,990 154,997 Q153,1002 148,1002.5 L129,1003 Z" fill="#f6dfcc"/>
<path d="M30.7,973 Q40,975 57.3,986.4 Q62,992 62.6,1009.7 L30.7,1009.7 Z" fill="#a8a8a8"/>
<path d="M30.7,983 Q40,985 50,994 Q53,999 53,1009.7 L30.7,1009.7 Z" fill="#bdbdbd"/>
</g>
<defs><linearGradient id="eg" x1="0" y1="0" x2="1" y2="0"><stop offset="0" stop-color="#ffffff"/><stop offset="0.35" stop-color="#fbfbfb"/><stop offset="0.47" stop-color="#f6f6f6"/><stop offset="0.6" stop-color="#eeeeee"/><stop offset="0.755" stop-color="#e3e3e3"/><stop offset="0.885" stop-color="#d6d6d6"/><stop offset="0.95" stop-color="#d0d0d0"/><stop offset="1" stop-color="#cfcfd0"/></linearGradient></defs>
<ellipse cx="803.5" cy="899" rx="385.5" ry="133" fill="url(#eg)"/>
<rect x="197" y="662" width="10.7" height="82" fill="#f19319"/>
<polygon points="201.8,631.6 222,666.5 181.2,666.5" fill="#f19319"/>
<rect x="598" y="710" width="9.5" height="52" fill="#f19319"/>
<polygon points="585.3,758.4 622.3,758.4 603.6,790" fill="#f19319"/>
<path d="M450,950 Q452,938 472,932 L705,800 L795,842 Q811,856 810,872 L809.5,886 Q807,893 798,897 L556,1032 Q530,1044 512,1032 L455,974 Q448,962 450,950 Z" fill="#bab7b7"/>
<path d="M462.3,934 Q462,912 480,900 L522,869 L577,816 Q600,792 626,782 Q660,765 690,760 Q705,760 717,766 L740,780 L769,802 Q784,820 787.6,846 Q788,864 778.5,873 L745,897 L632,970 L620,962 L577.3,1006 L576,1014.8 L518,1016.9 Q490,1010 477,996 Q463,984 462.3,962 Z" fill="#f1971f"/>
<path d="M626,921 L639.5,917 L769.6,831 L787.2,830 Q789,862 778.5,873 L745,897 L632,970 Q624,945 626,921 Z" fill="#d8820f"/>
<path d="M577,1006 Q590,970 610,950 L626,925 L632,970 L620,962 Z" fill="#d8820f"/>
<path d="M522.5,869 L577.2,815.7 Q612,838 649.7,856.7 L611.4,918.3 Q565,900 522.5,869 Z" fill="#575b51"/>
<path d="M635,899 Q650,865 669,845 Q684,834 696,830.7 L705.3,862.8 L636.5,904.7 Z" fill="#575b51"/>
<path d="M703,827.7 Q730,820 759.2,819.5 Q740,840 712.8,857.6 Z" fill="#575b51"/>
<path d="M629,918 L635,899 L638,914 Z" fill="#1f2d2a"/>
<polygon points="736.6,779.2 752,787 768.5,802.1 766,807.3 748,798.3" fill="#575b51"/>
<path d="M775,810 Q782,812 785,828 L773,827 Q768,818 775,810 Z" fill="#d3e9f3"/>
<path d="M632,968 L626,921 Q640,880 669,841 Q684,829 697,826 L703,855 L714,868 Q716,895 705,920 Q700,930 690,936" fill="none" stroke="#7d5220" stroke-width="0.7"/>
<path d="M639.5,907.7 Q643,903 648,903 L660.4,909.2 Q663,913 660,914 L642.4,915.2 Z" fill="#e78d15"/>
<path d="M531,834 Q540,838 543,854 L534,856 Q528,845 531,834 Z" fill="#e38a14"/>
<path d="M462.3,950 Q464,985 485,1000 Q520,1012 576,1011.4 L576,1014.8 L518,1016.9 Q480,1010 467,990 Q461,975 462.3,950 Z" fill="#243634"/>
<path d="M480.1,902.6 Q476,918 474,933.4 L471.9,948.4 Q464,940 463.7,925 Q466,912 480.1,902.6 Z" fill="#d3e9f3"/>
<path d="M474,933.4 Q500,955 533.5,967.6 L529.4,975.8 Q495,965 474,945.7 Z" fill="#a6c8d3"/>
<path d="M474,945.7 Q500,964 529.4,975.8 L527,981 Q495,970 471.9,950 Z" fill="#575b51"/>
<path d="M526.6,981.3 Q530,968 540,964 Q558,957 573.2,954.6 Q578,956 576.6,959.4 Q572,970 566,976 Q560,983 545,984 Z" fill="#d3e9f3"/>
<path d="M471.9,966.2 Q495,982 523.9,993.6 L521.2,999 Q492,990 474.6,975.8 Z" fill="#243634"/>
<path d="M522.5,1004.5 L529.4,999 L559.5,999 L562.2,1004.5 L554,1007.3 Z" fill="#575b51"/>
<ellipse cx="605.5" cy="980" rx="18" ry="29" transform="rotate(25 605.5 980)" fill="#1f2d2a"/><ellipse cx="600.5" cy="986" rx="18" ry="30" transform="rotate(25 600.5 986)" fill="#5d5f58"/><ellipse cx="603.5" cy="987" rx="12.5" ry="22" transform="rotate(25 603.5 987)" fill="#babebe"/><ellipse cx="603.5" cy="987" rx="9.5" ry="17.5" transform="rotate(25 603.5 987)" fill="#5a6a68"/><g transform="translate(603.5 987) rotate(25) scale(0.55 1)"><polygon points="-2.6,0 2.6,0 1.2,-17.5 -1.2,-17.5" transform="rotate(0)" fill="#babebe"/><polygon points="-2.6,0 2.6,0 1.2,-17.5 -1.2,-17.5" transform="rotate(72)" fill="#babebe"/><polygon points="-2.6,0 2.6,0 1.2,-17.5 -1.2,-17.5" transform="rotate(144)" fill="#babebe"/><polygon points="-2.6,0 2.6,0 1.2,-17.5 -1.2,-17.5" transform="rotate(216)" fill="#babebe"/><polygon points="-2.6,0 2.6,0 1.2,-17.5 -1.2,-17.5" transform="rotate(288)" fill="#babebe"/><circle r="3" fill="#babebe"/></g>
<ellipse cx="762.7" cy="882.3" rx="18" ry="29" transform="rotate(25 762.7 882.3)" fill="#1f2d2a"/><ellipse cx="757.7" cy="888.3" rx="18" ry="30" transform="rotate(25 757.7 888.3)" fill="#5d5f58"/><ellipse cx="760.7" cy="889.3" rx="12.5" ry="22" transform="rotate(25 760.7 889.3)" fill="#babebe"/><ellipse cx="760.7" cy="889.3" rx="9.5" ry="17.5" transform="rotate(25 760.7 889.3)" fill="#5a6a68"/><g transform="translate(760.7 889.3) rotate(25) scale(0.55 1)"><polygon points="-2.6,0 2.6,0 1.2,-17.5 -1.2,-17.5" transform="rotate(0)" fill="#babebe"/><polygon points="-2.6,0 2.6,0 1.2,-17.5 -1.2,-17.5" transform="rotate(72)" fill="#babebe"/><polygon points="-2.6,0 2.6,0 1.2,-17.5 -1.2,-17.5" transform="rotate(144)" fill="#babebe"/><polygon points="-2.6,0 2.6,0 1.2,-17.5 -1.2,-17.5" transform="rotate(216)" fill="#babebe"/><polygon points="-2.6,0 2.6,0 1.2,-17.5 -1.2,-17.5" transform="rotate(288)" fill="#babebe"/><circle r="3" fill="#babebe"/></g>
<text x="818.5" y="898" font-size="24" fill="#111" text-anchor="start" font-weight="400" stroke="#111" stroke-width="0.45" letter-spacing="0.17">防止在实际的车辆测试中发生诸如</text>
<text x="818.5" y="927" font-size="24" fill="#111" text-anchor="start" font-weight="400" stroke="#111" stroke-width="0.45" letter-spacing="0.17">「规格不备」和「相互理解不足」</text>
<text x="818.5" y="956" font-size="24" fill="#111" text-anchor="start" font-weight="400" stroke="#111" stroke-width="0.45" letter-spacing="0.17">之类的基本功能问题</text>
</svg></body></html>
